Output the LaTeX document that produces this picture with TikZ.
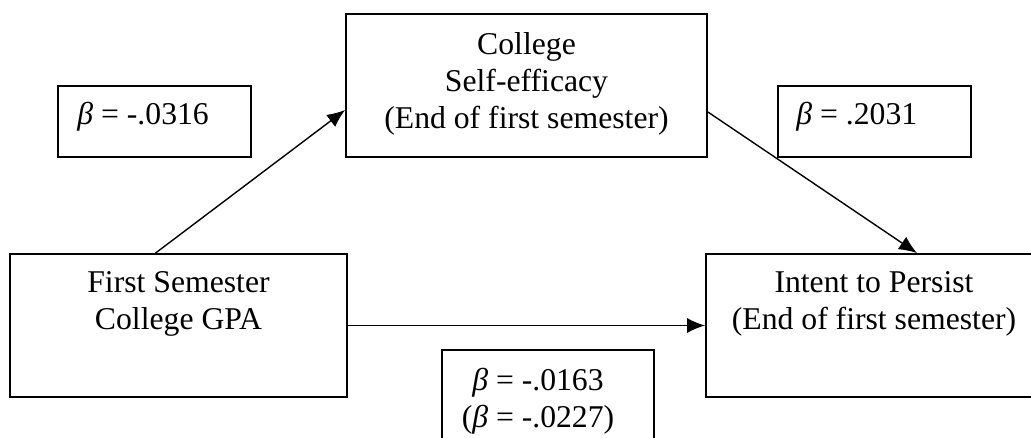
\documentclass[tikz,border=0pt]{standalone}
\usepackage{fontspec}
\setmainfont{Liberation Serif}
\usetikzlibrary{arrows.meta,positioning}

\begin{document}
\begin{tikzpicture}[x=.5pt,y=-.5pt,>={Latex[length=9pt,width=7.5pt]}]
\tikzset{
box/.style={draw=black,line width=.9pt,inner sep=0pt},
txt/.style={font=\fontsize{15.85}{18.5}\selectfont,align=center,inner sep=0pt},
flow/.style={->,draw=black,line width=.7pt}
}
\useasboundingbox (0,0) rectangle (1031,438);

\node[box,minimum width=180.5pt,minimum height=71.5pt] (seff) at (526.5,85.5) {};
\node[txt] at (526.5,83.5) {College\\Self-efficacy\\(End of first semester)};

\node[box,minimum width=168.5pt,minimum height=71.5pt] (gpa) at (178.5,325.5) {};
\node[txt] at (178.5,304) {First Semester\\College GPA};

\node[box,minimum width=168pt,minimum height=71.5pt] (intent) at (874,325.5) {};
\node[txt] at (874,303.5) {Intent to Persist\\(End of first semester)};

\node[box,minimum width=96.5pt,minimum height=35.5pt] (bone) at (154.5,121.5) {};
\node[txt,anchor=west] at (77,117) {\textit{β} = -.0316};

\node[box,minimum width=96.5pt,minimum height=35.5pt] (btwo) at (874.5,121.5) {};
\node[txt,anchor=west] at (796,117) {\textit{β} = .2031};

\node[box,minimum width=106pt,minimum height=55pt] (bthree) at (548,405) {};
\node[txt] at (538,401.5) {\textit{β} = -.0163\\(\textit{β} = -.0227)};

\draw[flow] ([xshift=-11.5pt]gpa.north) -- ([yshift=-12.25pt]seff.west);
\draw[flow] ([yshift=-13.25pt]seff.east) -- ([xshift=21.5pt]intent.north);
\draw[flow] (gpa.east) -- (intent.west);
\end{tikzpicture}
\end{document}
